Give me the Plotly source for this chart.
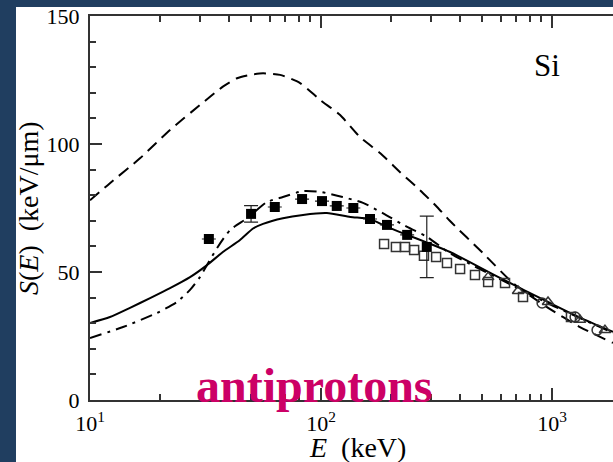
import plotly.graph_objects as go

# theory curves (E in keV, S in keV/um)
dashed_E = [10, 12.2, 16.5, 22.2, 29.9, 37.6, 43.3, 49.3, 56.1, 66.5, 81.2, 99.2, 121, 147.5, 180, 220, 268, 318, 361, 502, 678, 951, 1321, 1837]
dashed_S = [78, 84.7, 94.5, 105.5, 115.2, 122.4, 125.7, 127, 127.6, 127, 123.8, 117.2, 111.3, 102.7, 96.5, 89, 82, 75.4, 70, 57.4, 45.7, 36.3, 28.5, 22.3]

solid_E = [10, 12.2, 14.9, 18.2, 22.2, 27.1, 32.1, 37.6, 44.6, 50.8, 56.1, 68.4, 83.6, 106, 134, 163, 193, 236, 288, 362, 595, 980, 1321, 1837]
solid_S = [30.1, 32.4, 36, 39.8, 43.7, 48, 52.7, 57.8, 62.5, 67, 68.8, 71, 72.3, 73, 71.5, 70.7, 67.6, 64.5, 61.5, 57.8, 47.7, 37.9, 32.2, 26.6]

dashdot_E = [10, 13.9, 19.5, 23.8, 27.1, 29.9, 32.1, 35.5, 40.4, 47.9, 58.3, 68.4, 83.6, 99.2, 124, 152, 185, 236, 288, 362, 595, 980, 1837]
dashdot_S = [24.2, 28.5, 34, 38.3, 43, 48, 52.7, 59.4, 66.4, 71, 77.3, 79.3, 81.6, 81.3, 79.3, 77, 73, 67.6, 63.7, 57.3, 47.2, 37.4, 26.2]

# measurements
filled_E = [32.7, 49.8, 63.1, 82.8, 101, 117, 138, 163, 193, 236, 287]
filled_S = [62.9, 72.7, 75.4, 78.5, 77.7, 75.8, 75, 70.7, 68.4, 64.5, 59.8]
filled_err = [0, 3.2, 0, 0, 0, 0, 0, 0, 0, 0, 12]

open_sq_E = [187.5, 211, 231, 253, 279, 315, 351, 400, 464, 529, 626, 749, 1208]
open_sq_S = [60.9, 59.8, 59.8, 58.6, 56.3, 55.9, 53.5, 51.2, 48.8, 46.1, 45.7, 40.2, 32.4]

tri_E = [529, 713, 961, 1321, 1695]
tri_S = [48.0, 42.6, 38.3, 31.3, 27.3]

circ_E = [906, 1259, 1567]
circ_S = [37.9, 32.4, 27.3]

x_tickvals = [10, 100, 1000]
x_ticktext = ["10<sup>1</sup>", "10<sup>2</sup>", "10<sup>3</sup>"]

serif = "Liberation Serif, Times New Roman, DejaVu Serif, serif"

fig = go.Figure()
fig.add_trace(go.Scatter(x=dashed_E, y=dashed_S, mode="lines", line=dict(color="black", width=2, dash="12px,7px", shape="spline", smoothing=0.6)))
fig.add_trace(go.Scatter(x=solid_E, y=solid_S, mode="lines", line=dict(color="black", width=2, shape="spline", smoothing=0.6)))
fig.add_trace(go.Scatter(x=dashdot_E, y=dashdot_S, mode="lines", line=dict(color="black", width=2, dash="12px,6px,3px,6px", shape="spline", smoothing=0.6)))
fig.add_trace(go.Scatter(x=open_sq_E, y=open_sq_S, mode="markers", marker=dict(symbol="square-open", size=9, color="#333", line=dict(width=1.5))))
fig.add_trace(go.Scatter(x=tri_E, y=tri_S, mode="markers", marker=dict(symbol="triangle-up-open", size=10, color="#333", line=dict(width=1.5))))
fig.add_trace(go.Scatter(x=circ_E, y=circ_S, mode="markers", marker=dict(symbol="circle-open", size=10, color="#333", line=dict(width=1.5))))
fig.add_trace(go.Scatter(x=filled_E, y=filled_S, mode="markers", marker=dict(symbol="square", size=10, color="black"),
                         error_y=dict(type="data", array=filled_err, color="#222", thickness=1.2, width=7)))

fig.add_shape(type="rect", xref="paper", yref="paper", x0=-0.1415, x1=1.02, y0=-0.17, y1=1.0234,
              fillcolor="white", line_width=0, layer="below")

fig.add_annotation(x=0.874, y=0.872, xref="paper", yref="paper", text="Si", showarrow=False,
                   xanchor="center", yanchor="middle", font=dict(family=serif, size=31, color="black"))
fig.add_annotation(x=0.429, y=0.039, xref="paper", yref="paper", text="<b>antiprotons</b>", showarrow=False,
                   xanchor="center", yanchor="middle", font=dict(family=serif, size=48, color="#cc0066"))
fig.add_annotation(x=-0.1185, y=0.5, xref="paper", yref="paper", text="<i>S</i>(<i>E</i>)\u00a0\u00a0(keV/\u03bcm)",
                   textangle=-90, showarrow=False, xanchor="center", yanchor="middle",
                   font=dict(family=serif, size=28, color="black"))
fig.add_annotation(x=0.5124, y=-0.124, xref="paper", yref="paper", text="<i>E</i>\u00a0\u00a0(keV)",
                   showarrow=False, xanchor="center", yanchor="middle",
                   font=dict(family=serif, size=28, color="black"))

fig.update_xaxes(type="log", range=[1, 3.264], tickvals=x_tickvals, ticktext=x_ticktext, showgrid=False,
                 showline=True, linecolor="#333", linewidth=2, mirror="ticks",
                 ticks="inside", ticklen=12, tickcolor="#333", tickwidth=1.5, ticklabelstandoff=3,
                 minor=dict(ticks="inside", ticklen=6, tickcolor="#333", tickwidth=1.5, dtick="D1", showgrid=False),
                 tickfont=dict(family=serif, size=22, color="black"), zeroline=False)
fig.update_yaxes(range=[0, 150], dtick=50, showgrid=False,
                 showline=True, linecolor="#333", linewidth=2,
                 ticks="inside", ticklen=12, tickcolor="#333", tickwidth=1.5, ticklabelstandoff=4,
                 minor=dict(ticks="inside", ticklen=6, tickcolor="#333", tickwidth=1.5, dtick=10, showgrid=False),
                 tickfont=dict(family=serif, size=22, color="black"), zeroline=False)

fig.update_layout(width=613, height=462, margin=dict(l=90, r=0, t=16, b=62),
                  paper_bgcolor="#203e60", plot_bgcolor="white", showlegend=False,
                  font=dict(family=serif, color="black"))

fig.write_html("out.html", config={"displayModeBar": False},
               post_script="document.body.style.margin='0';document.body.style.overflow='hidden';")
